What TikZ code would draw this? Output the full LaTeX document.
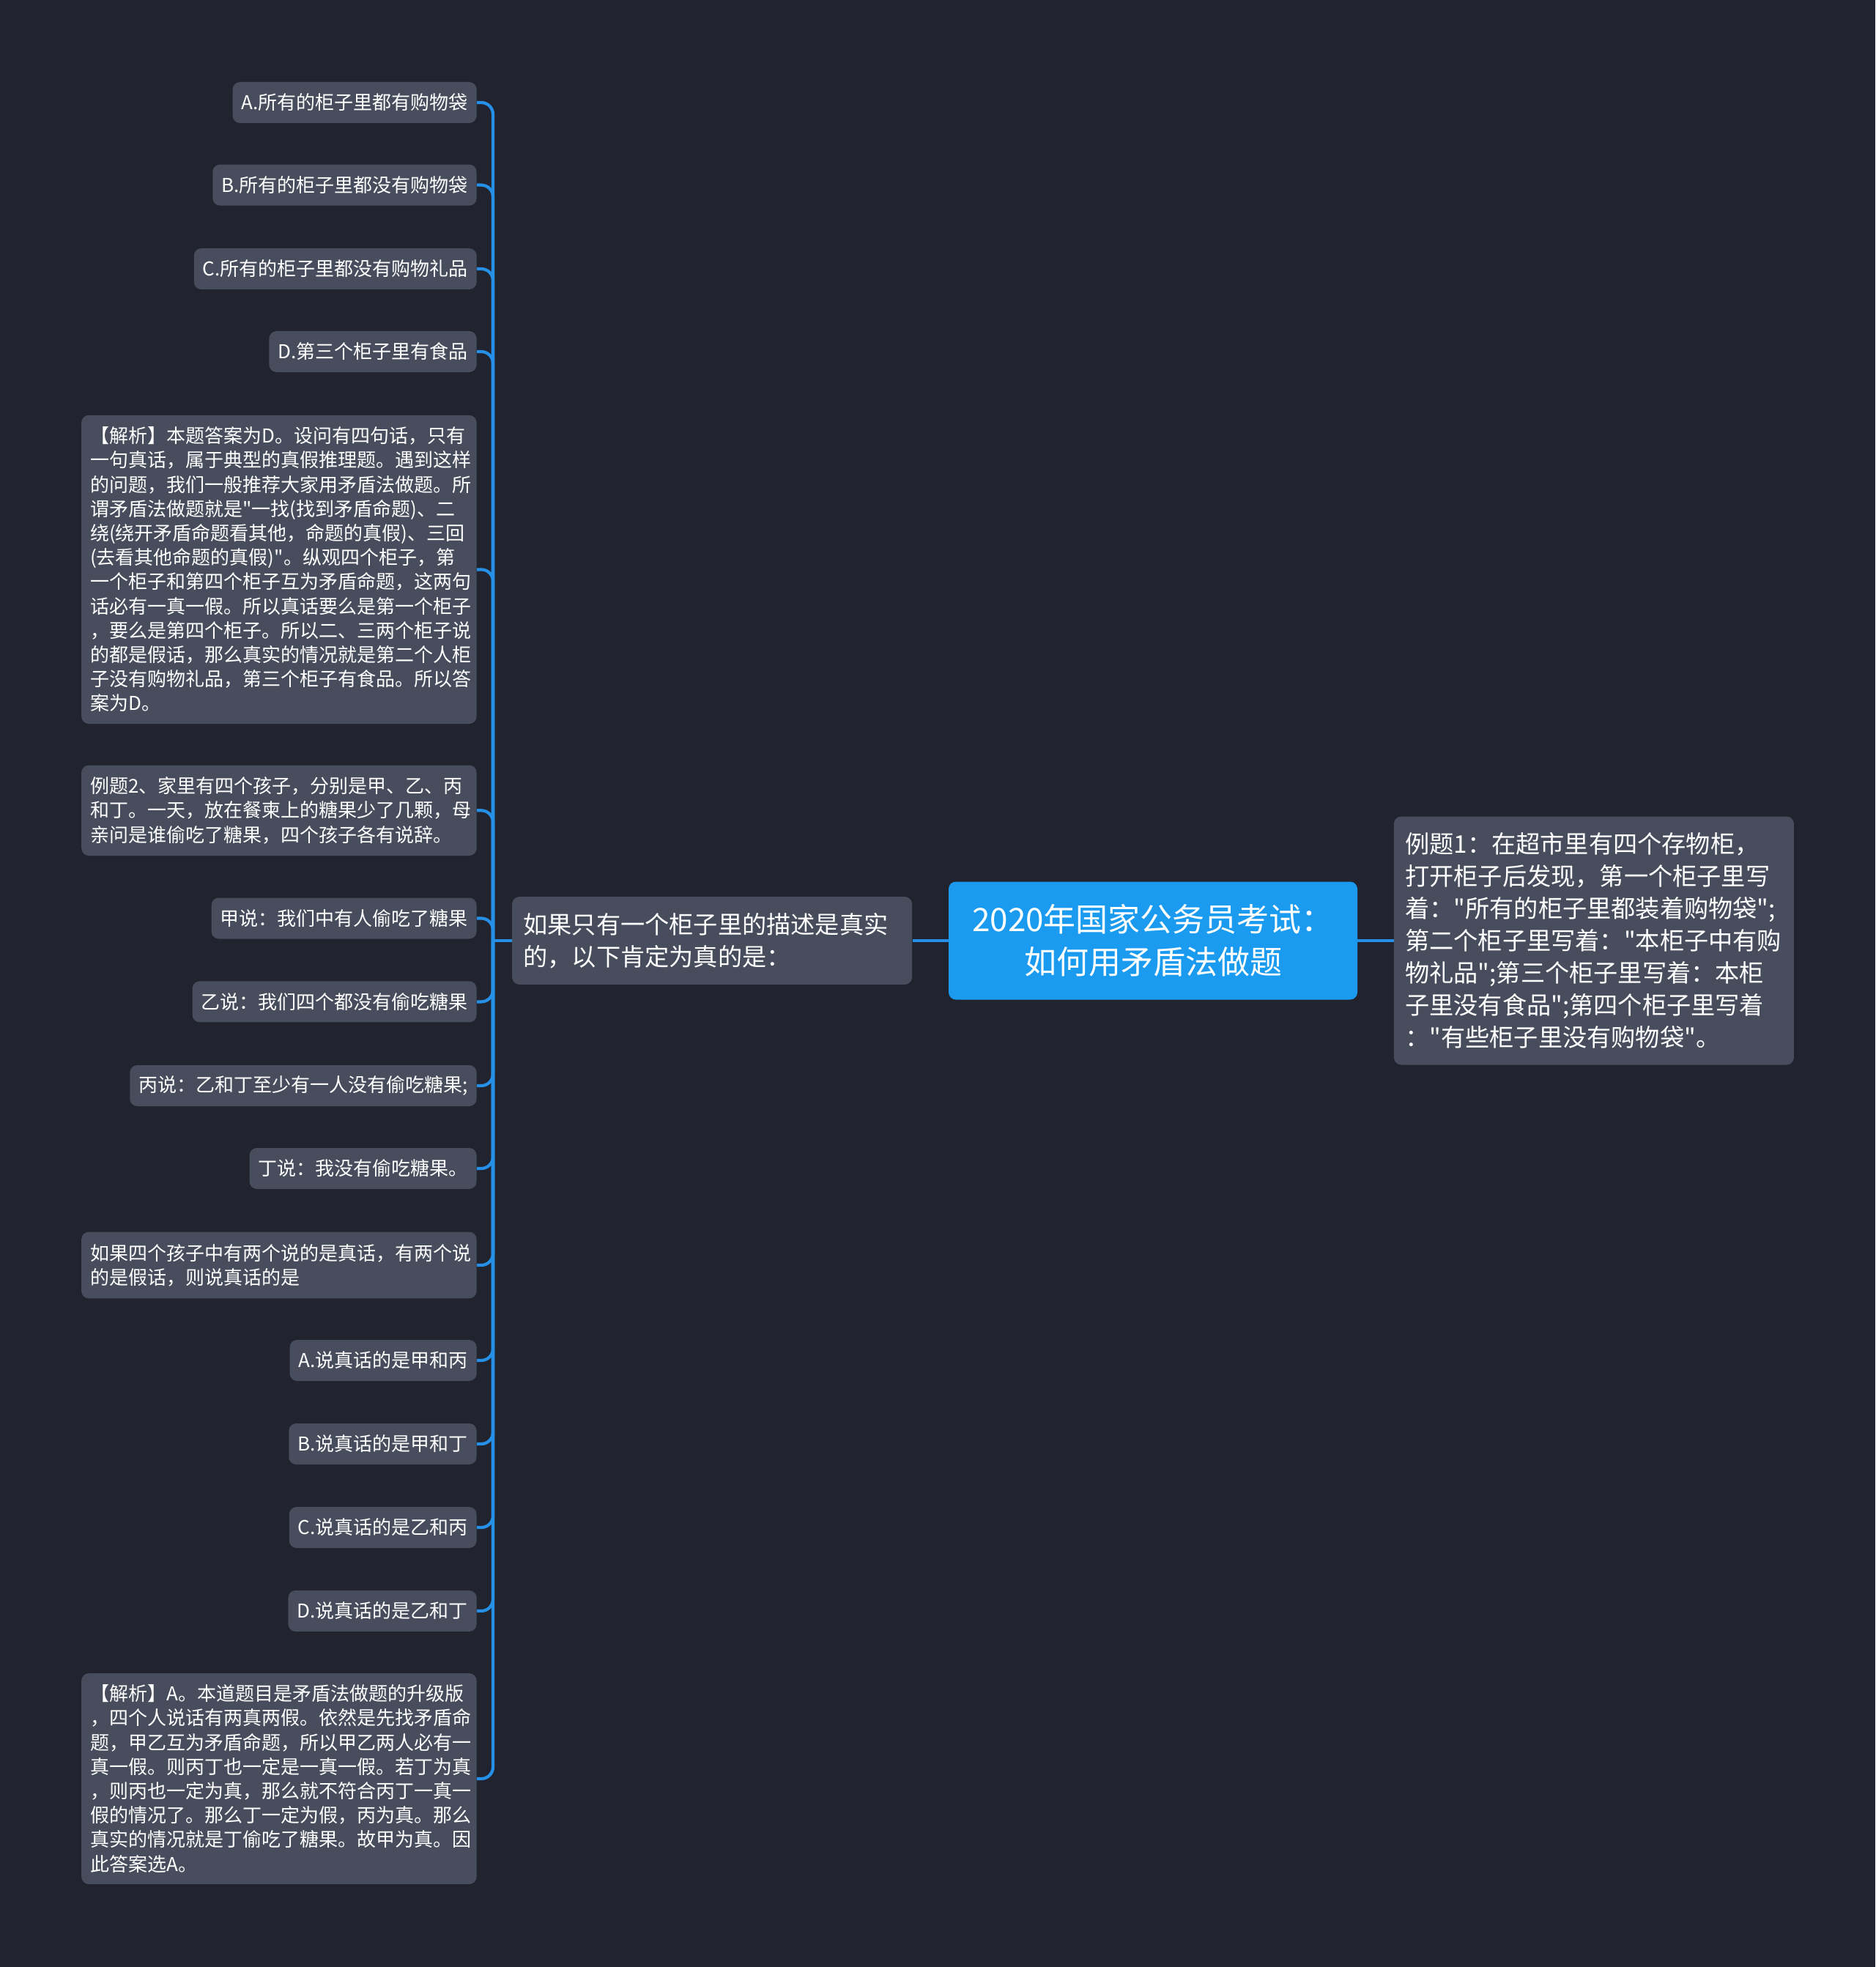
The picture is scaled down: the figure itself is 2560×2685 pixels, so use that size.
\documentclass[tikz,border=0pt]{standalone}
\usepackage{fontspec}
\newfontfamily\cjk{Noto Sans CJK SC}
\definecolor{bg}{HTML}{21242F}
\definecolor{nodefill}{HTML}{474D5C}
\definecolor{mainblue}{HTML}{1B9BF0}
\definecolor{linkblue}{HTML}{2590E6}
\tikzset{
  box/.style={rectangle, rounded corners=5pt, fill=nodefill, text=white,
    inner xsep=6pt, inner ysep=0pt, align=left,
    font=\cjk\fontsize{13pt}{16.6pt}\selectfont},
  onebox/.style={box, minimum height=28pt, anchor=east},
  multibox/.style={box, anchor=east, text width=257.7pt},
  bigbox/.style={rectangle, rounded corners=5pt, fill=nodefill, text=white,
    inner xsep=7.7pt, inner ysep=0pt, align=left, text width=257.6pt,
    font=\cjk\fontsize{16.6pt}{22pt}\selectfont, anchor=west},
  conn/.style={draw=linkblue, line width=2.1pt, rounded corners=8pt}
}
\begin{document}
\begin{tikzpicture}[x=0.5pt, y=-0.5pt]
\useasboundingbox (0,0) rectangle (2560,2685);
\fill[bg] (0,0) rectangle (2560,2685);

% root and first level
\node[rectangle, rounded corners=5pt, fill=mainblue, text=white, inner sep=0pt,
  minimum width=279pt, minimum height=80.5pt, align=center,
  font=\cjk\fontsize{22pt}{29pt}\selectfont, anchor=west]
  (cen) at (1294.6,1284) {2020年国家公务员考试：\\如何用矛盾法做题};
\node[bigbox, minimum height=169.5pt] (rt) at (1902.5,1284)
  {例题1：在超市里有四个存物柜，\\
   打开柜子后发现，第一个柜子里写\\
   着："所有的柜子里都装着购物袋";\\
   第二个柜子里写着："本柜子中有购\\
   物礼品";第三个柜子里写着：本柜\\
   子里没有食品";第四个柜子里写着\\
   ："有些柜子里没有购物袋"。};
\node[bigbox, minimum height=59.9pt] (mid) at (698.7,1284)
  {如果只有一个柜子里的描述是真实\\的，以下肯定为真的是：};

\coordinate (sp) at (673,1284);

% leaves
\node[onebox] (n1) at (651,140) {A.所有的柜子里都有购物袋};
\node[onebox] (n2) at (651,252.6) {B.所有的柜子里都没有购物袋};
\node[onebox] (n3) at (651,367) {C.所有的柜子里都没有购物礼品};
\node[onebox] (n4) at (651,480) {D.第三个柜子里有食品};
\node[multibox, minimum height=210.6pt] (n5) at (651,777.4)
  {【解析】本题答案为D。设问有四句话，只有\\
   一句真话，属于典型的真假推理题。遇到这样\\
   的问题，我们一般推荐大家用矛盾法做题。所\\
   谓矛盾法做题就是"一找(找到矛盾命题)、二\\
   绕(绕开矛盾命题看其他，命题的真假)、三回\\
   (去看其他命题的真假)"。纵观四个柜子，第\\
   一个柜子和第四个柜子互为矛盾命题，这两句\\
   话必有一真一假。所以真话要么是第一个柜子\\
   ，要么是第四个柜子。所以二、三两个柜子说\\
   的都是假话，那么真实的情况就是第二个人柜\\
   子没有购物礼品，第三个柜子有食品。所以答\\
   案为D。};
\node[multibox, minimum height=61.7pt] (n6) at (651,1106.3)
  {例题2、家里有四个孩子，分别是甲、乙、丙\\
   和丁。一天，放在餐柬上的糖果少了几颗，母\\
   亲问是谁偷吃了糖果，四个孩子各有说辞。};
\node[onebox] (n7) at (651,1253.5) {甲说：我们中有人偷吃了糖果};
\node[onebox] (n8) at (651,1367.4) {乙说：我们四个都没有偷吃糖果};
\node[onebox] (n9) at (651,1482) {丙说：乙和丁至少有一人没有偷吃糖果;};
\node[onebox] (n10) at (651,1595) {丁说：我没有偷吃糖果。};
\node[multibox, minimum height=45.4pt] (n11) at (651,1727)
  {如果四个孩子中有两个说的是真话，有两个说\\的是假话，则说真话的是};
\node[onebox] (n12) at (651,1857) {A.说真话的是甲和丙};
\node[onebox] (n13) at (651,1971) {B.说真话的是甲和丁};
\node[onebox] (n14) at (651,2085) {C.说真话的是乙和丙};
\node[onebox] (n15) at (651,2199) {D.说真话的是乙和丁};
\node[multibox, minimum height=143.9pt] (n16) at (651,2428)
  {【解析】A。本道题目是矛盾法做题的升级版\\
   ，四个人说话有两真两假。依然是先找矛盾命\\
   题，甲乙互为矛盾命题，所以甲乙两人必有一\\
   真一假。则丙丁也一定是一真一假。若丁为真\\
   ，则丙也一定为真，那么就不符合丙丁一真一\\
   假的情况了。那么丁一定为假，丙为真。那么\\
   真实的情况就是丁偷吃了糖果。故甲为真。因\\
   此答案选A。};

% connectors
\draw[conn] (cen.west) -- (mid.east);
\draw[conn] (cen.east) -- (rt.west);
\draw[conn] (mid.west) -- (sp);
\foreach \n in {n1,n2,n3,n4,n5,n6,n7,n8,n9,n10,n11,n12,n13,n14,n15,n16}
  \draw[conn] (sp) |- (\n.east);
\end{tikzpicture}
\end{document}
